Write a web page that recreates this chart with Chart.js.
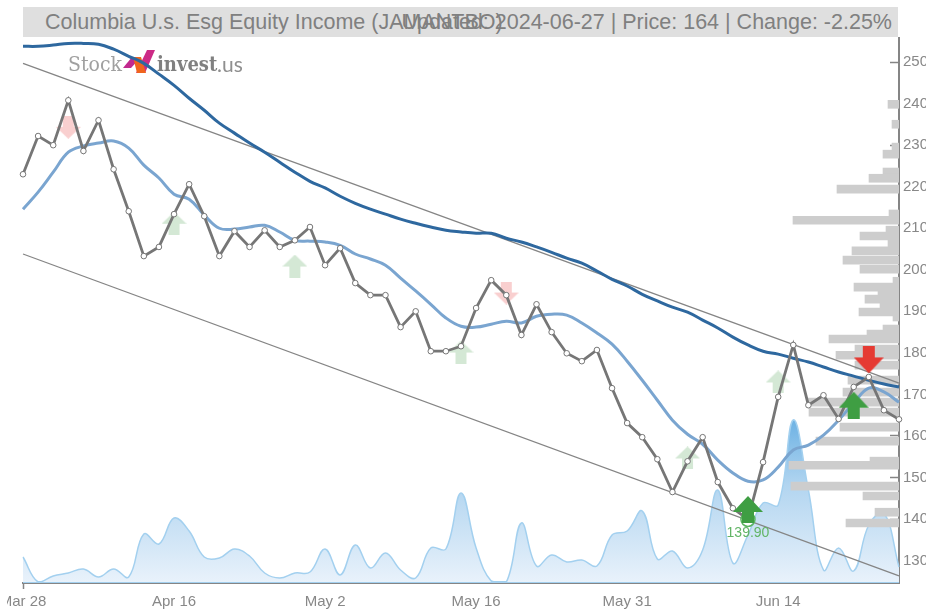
<!DOCTYPE html>
<html>
<head>
<meta charset="utf-8">
<title>Columbia U.s. Esg Equity Income</title>
<script src="https://cdn.jsdelivr.net/npm/chart.js@4/dist/chart.umd.min.js"></script>
<style>
  html, body { margin: 0; padding: 0; background: #fff; overflow: hidden; }
  #page { position: relative; width: 926px; height: 610px; filter: blur(0.45px); }
  #banner { position: absolute; left: 23px; top: 7px; width: 875px; height: 30px; background: #dfdfdf; }
  .head { position: absolute; top: 7px; font: 21.5px/30px "Liberation Sans", Arial, sans-serif; color: #808080; white-space: nowrap; }
  #logo { position: absolute; left: 68px; top: 50px; height: 28px; line-height: 28px; color: #8a8a8a; white-space: nowrap; }
  #logo span { position: absolute; top: 0; }
  #mark { position: absolute; left: 123px; top: 50px; }
  canvas { position: absolute; left: 0; top: 0; clip-path: inset(0 0 0 7px); }
</style>
</head>
<body>
<div id="page">
  <div id="banner"></div>
  <div class="head" style="left:45px">Columbia U.s. Esg Equity Income (JAMANTBO)</div>
  <div class="head" style="right:34px">Updated: 2024-06-27 | Price: 164 | Change: -2.25%</div>
  <svg id="mark" width="33" height="24">
    <polygon points="0,18 9,7 18,7 8,18" fill="#c2298f"/>
    <polygon points="24,0 32,0 22,23 13,23" fill="#cc2a86"/>
    <polygon points="10,7 18,7 23,23 14,23" fill="#f0641e"/>
  </svg>
  <div id="logo">
    <span style="left:0;font:300 21px/28px 'DejaVu Serif Condensed','DejaVu Serif',serif;color:#a0a0a0">Stock</span>
    <span style="left:89px;font:bold 20px/28px 'DejaVu Serif Condensed','DejaVu Serif',serif;color:#808080">invest</span>
    <span style="left:149px;font:21px/28px Lato,sans-serif;color:#8f8f8f">.us</span>
  </div>
  <canvas id="chart-stock" width="926" height="610"></canvas>
</div>
<script>
var dates = ['Mar 28','Apr 2','Apr 3','Apr 4','Apr 5','Apr 8','Apr 9','Apr 10','Apr 12','Apr 15',
  'Apr 16','Apr 18','Apr 19','Apr 22','Apr 23','Apr 24','Apr 25','Apr 26','Apr 29','Apr 30',
  'May 2','May 3','May 6','May 7','May 8','May 9','May 10','May 13','May 14','May 15',
  'May 16','May 17','May 21','May 22','May 23','May 24','May 27','May 28','May 29','May 30',
  'May 31','Jun 3','Jun 4','Jun 5','Jun 6','Jun 7','Jun 10','Jun 11','Jun 12','Jun 13',
  'Jun 14','Jun 18','Jun 19','Jun 20','Jun 21','Jun 24','Jun 25','Jun 26','Jun 27'];

var price = [223.0,232.2,230.0,240.8,228.6,236.0,224.2,214.1,203.3,205.5,
  213.4,220.6,212.9,203.3,209.3,205.5,209.5,205.5,207.1,210.3,
  201.1,205.2,196.8,193.9,193.9,186.2,190.0,180.4,180.4,181.6,
  190.8,197.5,193.9,184.3,191.7,185.0,179.9,178.0,180.7,171.5,
  163.1,159.7,154.4,146.5,153.9,159.7,148.9,142.6,139.9,153.7,
  169.4,181.9,167.4,169.8,164.1,171.8,174.2,166.2,164.0];

var maShort = [214.6,218.7,223.5,228.3,229.8,230.5,231.0,229.3,225.2,222.1,
  218.2,217.0,213.2,210.0,209.8,210.3,210.7,209.1,207.1,206.9,
  206.7,205.9,203.8,202.6,201.1,198.0,194.9,191.7,188.4,186.4,
  186.2,186.9,187.6,187.2,188.8,189.3,189.1,187.2,184.8,182.1,
  178.0,173.4,168.6,163.8,160.4,158.0,154.2,151.1,149.1,149.4,
  152.5,156.6,157.8,160.2,163.8,167.9,171.5,170.6,168.1];

var maLong = [253.8,253.8,254.1,254.5,254.5,254.3,253.1,251.4,249.7,247.1,
  244.4,241.3,238.4,235.3,232.9,230.5,228.3,225.9,223.5,221.3,
  219.7,217.7,216.0,214.6,213.4,212.2,211.2,210.3,209.5,209.1,
  208.8,208.8,207.6,206.7,205.5,204.2,202.8,201.6,199.7,197.7,
  196.1,194.1,192.5,191.0,189.8,187.9,186.0,183.8,181.9,180.4,
  179.7,178.7,177.8,176.6,175.4,174.4,173.4,172.5,171.8];

var volume = [25,0,6,9,13,5,13,5,48,38,
  64,51,25,24,33,26,9,4,9,10,
  33,7,37,14,29,12,4,34,33,89,
  34,1,0,59,16,27,20,22,16,47,
  51,71,23,31,14,32,92,19,47,79,
  77,162,92,12,34,11,57,69,15];

var channelUpper = [249.7, 172.7];
var channelLower = [203.8, 126.3];

var profilePrices = [240.8,236.0,230.5,228.8,224.5,223.0,220.4,214.4,212.9,210.5,
  209.1,207.1,205.5,203.3,201.1,198.2,196.8,195.1,193.9,192.0,
  190.8,189.6,186.7,185.5,184.3,181.9,180.4,178.0,174.4,171.5,
  169.1,166.7,163.1,159.7,154.9,153.9,148.9,146.5,142.6,140.0];
var profileVolumes = [11,7,7,16,16,30,62,10,106,13,
  39,11,47,56,39,6,45,21,34,19,
  40,6,16,32,70,44,63,44,51,56,
  92,90,59,83,29,110,108,36,24,53];

var paleUps = [[10,211.2],[18,200.9],[29,180.2],[44,154.7],[50,173.0]];
var paleDowns = [[3,234.3],[32,194.4]];
var strongUps = [[48,142.3],[55,167.4]];
var strongDowns = [[56,178.3]];
var lowIndex = 48;

function makeArrow(w, h, headH, shaftW, color, down) {
  var c = document.createElement('canvas');
  c.width = w;
  c.height = h;
  var g = c.getContext('2d');
  if (down) { g.translate(0, h); g.scale(1, -1); }
  g.fillStyle = color;
  g.beginPath();
  g.moveTo(w / 2, 0);
  g.lineTo(w, headH);
  g.lineTo((w + shaftW) / 2, headH);
  g.lineTo((w + shaftW) / 2, h);
  g.lineTo((w - shaftW) / 2, h);
  g.lineTo((w - shaftW) / 2, headH);
  g.lineTo(0, headH);
  g.closePath();
  g.fill();
  return c;
}

// category scale needs the label as x, a plain number is not read as an index
function xy(pairs) {
  return pairs.map(function (p) { return { x: dates[p[0]], y: p[1] }; });
}

function arrowSet(pairs, image, order) {
  return {
    type: 'line', data: xy(pairs), showLine: false, order: order,
    pointStyle: image, pointRadius: 12, xAxisID: 'x', yAxisID: 'y'
  };
}

function channelSet(ends) {
  return {
    type: 'line', data: xy([[0, ends[0]], [dates.length - 1, ends[1]]]),
    borderColor: '#858585', borderWidth: 1.3, pointRadius: 0, order: 5
  };
}

var lowLabel = {
  id: 'lowLabel',
  afterDatasetsDraw: function (chart) {
    var x = chart.scales.x.getPixelForValue(lowIndex);
    var y = chart.scales.y.getPixelForValue(price[lowIndex]);
    var ctx = chart.ctx;
    ctx.save();
    ctx.font = '14px "Liberation Sans", Arial, sans-serif';
    ctx.fillStyle = '#62b566';
    ctx.textAlign = 'center';
    ctx.textBaseline = 'middle';
    ctx.fillText(price[lowIndex].toFixed(2), x, y + 14);
    ctx.restore();
  }
};

var ctx = document.getElementById('chart-stock').getContext('2d');
var stockChart = new Chart(ctx, {
  type: 'line',
  data: {
    labels: dates,
    datasets: [
      {
        data: volume, yAxisID: 'vol', order: 10,
        borderColor: '#a3d0ef', borderWidth: 1.5, pointRadius: 0, tension: 0.4, fill: 'origin',
        backgroundColor: function (c) {
          var area = c.chart.chartArea;
          if (!area) return '#cfe4f6';
          var top = area.bottom - 163;
          var grad = c.chart.ctx.createLinearGradient(0, top, 0, area.bottom);
          grad.addColorStop(0, '#6db2e4');
          grad.addColorStop(0.4, '#b2d5f0');
          grad.addColorStop(1, '#e9f2fb');
          return grad;
        }
      },
      {
        data: xy([[0, 0], [dates.length - 1, 0]]), yAxisID: 'vol', order: 10,
        borderColor: '#a3d0ef', borderWidth: 2, pointRadius: 0
      },
      {
        type: 'bar', indexAxis: 'y', order: 9,
        data: profilePrices.map(function (p, i) { return { x: profileVolumes[i], y: p }; }),
        xAxisID: 'profile', yAxisID: 'y',
        backgroundColor: '#cdcdcd', barThickness: 8
      },
      arrowSet(paleUps, makeArrow(25, 23, 12, 11, '#d4e8d5', false), 7),
      arrowSet(paleDowns, makeArrow(25, 23, 12, 11, '#f9cfcf', true), 7),
      channelSet(channelUpper),
      channelSet(channelLower),
      { data: maLong, borderColor: '#2e689f', borderWidth: 3, pointRadius: 0, tension: 0.4, order: 4 },
      { data: maShort, borderColor: '#7aa5d0', borderWidth: 3, pointRadius: 0, tension: 0.4, order: 4 },
      {
        data: price, borderColor: '#767676', borderWidth: 2.8, tension: 0, order: 3,
        pointRadius: 2.8, pointBorderWidth: 1, pointBorderColor: '#767676', pointBackgroundColor: '#fff'
      },
      {
        data: xy([[lowIndex, price[lowIndex]]]), showLine: false, order: 2,
        pointRadius: 7, pointBorderWidth: 1.5, pointBorderColor: '#5cb560', pointBackgroundColor: 'rgba(0,0,0,0)'
      },
      arrowSet(strongUps, makeArrow(30, 27, 16, 12, '#3f9e43', false), 1),
      arrowSet(strongDowns, makeArrow(30, 27, 16, 12, '#e53a33', true), 1)
    ]
  },
  options: {
    responsive: false,
    animation: false,
    events: [],
    layout: { padding: { left: 23, top: 38, right: 0, bottom: 0 } },
    plugins: { legend: { display: false }, title: { display: false }, tooltip: { enabled: false } },
    scales: {
      x: {
        type: 'category',
        offset: false,
        grid: {
          offset: false, drawOnChartArea: false, tickLength: 6, tickWidth: 1.5,
          tickColor: function (c) {
            return (c.index % 10 === 0 || c.index === dates.length - 1) ? '#858585' : 'rgba(0,0,0,0)';
          }
        },
        border: { color: '#858585', width: 2 },
        ticks: {
          autoSkip: false, maxRotation: 0, padding: 4, color: '#888',
          font: { family: '"Liberation Sans", Arial, sans-serif', size: 15 },
          callback: function (v, i) { return i % 10 === 0 ? dates[i] : null; }
        },
        afterFit: function (s) { s.height = 27; s.paddingLeft = 0; s.paddingRight = 0; }
      },
      y: {
        type: 'linear', position: 'right', min: 124.6, max: 255.8, offset: false,
        grid: { offset: false, drawOnChartArea: false, tickLength: -9, tickWidth: 1.5, tickColor: '#858585' },
        border: { color: '#858585', width: 2 },
        ticks: {
          stepSize: 10, padding: 13, color: '#888',
          font: { family: '"Liberation Sans", Arial, sans-serif', size: 15 },
          callback: function (v) { return v % 10 === 0 ? v : null; }
        },
        afterFit: function (s) { s.width = 27; }
      },
      vol: { type: 'linear', axis: 'y', display: false, min: -1, max: 544, offset: false },
      profile: { type: 'linear', axis: 'x', display: false, min: 0, max: 876, reverse: true, offset: false }
    }
  },
  plugins: [lowLabel]
});
</script>
</body>
</html>
